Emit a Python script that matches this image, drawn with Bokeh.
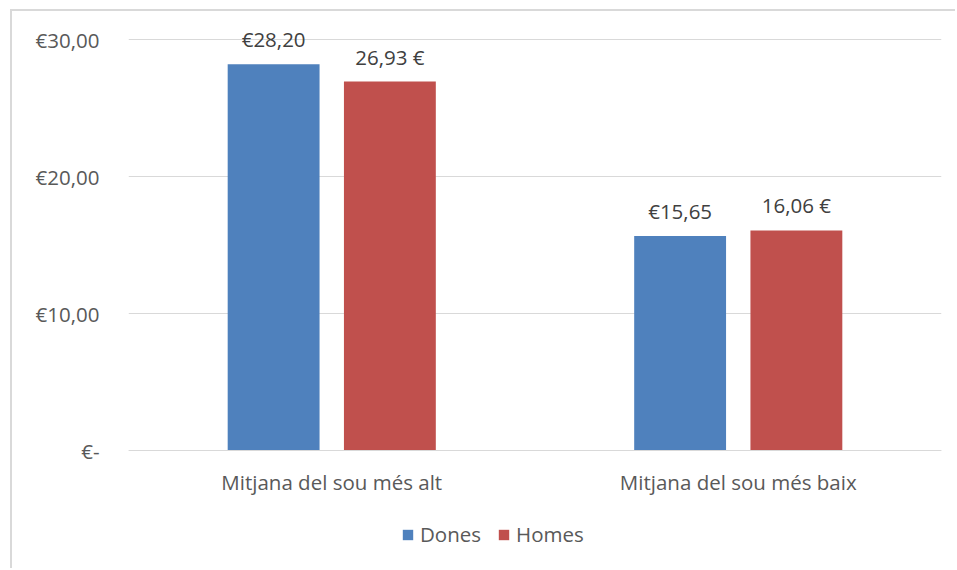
from bokeh.plotting import figure
from bokeh.models import ColumnDataSource, FactorRange, Legend, LegendItem, FixedTicker
from bokeh.transform import dodge
from bokeh.core.properties import value
from bokeh.embed import file_html
from bokeh.resources import INLINE

categories = ["Mitjana del sou més alt", "Mitjana del sou més baix"]
dones = [28.20, 15.65]
homes = [26.93, 16.06]
dones_labels = ["€28,20", "€15,65"]
homes_labels = ["26,93 €", "16,06 €"]
y_ticks = [0, 10, 20, 30]
y_tick_labels = ["€-", "€10,00", "€20,00", "€30,00"]

FONT = "Open Sans"
FS = "20.5px"
src = ColumnDataSource(dict(cat=categories, dones=dones, homes=homes,
                            dl=dones_labels, hl=homes_labels))

# frame extends below zero and a little above 30 to leave room for labels and legend inside it
p = figure(x_range=FactorRange(*categories), y_range=(-7.956, 31.46),
           width=945, height=559, output_backend="svg", toolbar_location=None,
           min_border_left=116, min_border_right=16, min_border_top=8, min_border_bottom=11)
p.styles = {"border-top": "2px solid #d9d9d9", "border-left": "2px solid #d9d9d9",
            "margin-left": "10px", "margin-top": "9px"}
p.outline_line_color = None

r1 = p.vbar(x=dodge("cat", -0.143, range=p.x_range), top="dones", width=0.226,
            source=src, color="#4F81BD", line_color=None)
r2 = p.vbar(x=dodge("cat", 0.143, range=p.x_range), top="homes", width=0.226,
            source=src, color="#C0504D", line_color=None)

for col, lab, off in (("dones", "dl", -0.143), ("homes", "hl", 0.143)):
    p.text(x=dodge("cat", off, range=p.x_range), y=col, text=lab, source=src,
           text_align="center", text_baseline="alphabetic", y_offset=-25,
           text_font=value(FONT), text_font_size=FS, text_color="#404040")

p.yaxis.ticker = FixedTicker(ticks=y_ticks)
p.yaxis.major_label_overrides = {t: l for t, l in zip(y_ticks, y_tick_labels)}
p.yaxis.axis_line_color = None
p.yaxis.major_tick_line_color = None
p.yaxis.minor_tick_line_color = None
p.yaxis.major_label_standoff = 23
p.yaxis.major_label_text_font = FONT
p.yaxis.major_label_text_font_size = FS
p.yaxis.major_label_text_color = "#595959"

p.xaxis.fixed_location = 0
p.xaxis.axis_line_color = "#d9d9d9"
p.xaxis.axis_line_width = 1
p.xaxis.major_tick_line_color = None
p.xaxis.minor_tick_line_color = None
p.xaxis.major_label_standoff = 11
p.xaxis.major_label_text_font = FONT
p.xaxis.major_label_text_font_size = FS
p.xaxis.major_label_text_color = "#595959"

p.xgrid.grid_line_color = None
p.ygrid.grid_line_color = "#d9d9d9"
p.ygrid.grid_line_width = 1

legend = Legend(items=[LegendItem(label="Dones", renderers=[r1]),
                       LegendItem(label="Homes", renderers=[r2])],
                orientation="horizontal", location=(273, 11),
                label_text_font=FONT, label_text_font_size=FS, label_text_color="#595959",
                glyph_width=13, glyph_height=13, spacing=16, label_standoff=6,
                border_line_color=None, background_fill_alpha=0, margin=0, padding=0)
p.add_layout(legend, "center")

open("out.html", "w").write(file_html(p, INLINE))
